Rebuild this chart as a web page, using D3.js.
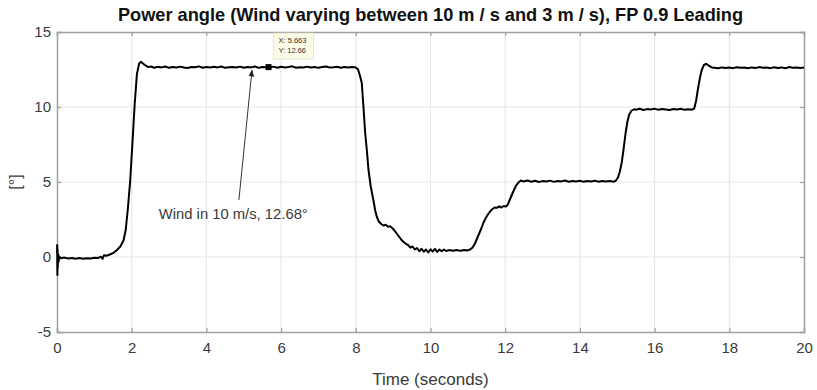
<!DOCTYPE html>
<html>
<head>
<meta charset="utf-8">
<script src="https://cdn.jsdelivr.net/npm/d3@7"></script>
<style>
  html, body { margin: 0; padding: 0; background: #fff; }
  svg { display: block; font-family: "Liberation Sans", Arial, sans-serif; }
</style>
</head>
<body>
<svg id="chart" width="817" height="390"></svg>
<script>
// ---- data ----
const titleText = "Power angle (Wind varying between 10 m / s and 3 m / s), FP 0.9 Leading";
const xLabelText = "Time (seconds)";
const yLabelText = "[°]";
const xTicks = [0, 2, 4, 6, 8, 10, 12, 14, 16, 18, 20];
const yTicks = [-5, 0, 5, 10, 15];

// [time (s), power angle (deg)]
const powerAngle = [
  [0.000, 0.30],[0.005, 0.80],[0.010,-1.20],[0.015,0.50],[0.020,-0.70],[0.030,0.20],[0.045,-0.30],[0.060,0.05],
  [0.10,-0.08],[0.20,-0.04],[0.30,-0.10],[0.40,-0.06],[0.50,-0.11],[0.60,-0.07],[0.70,-0.12],[0.80,-0.08],
  [0.90,-0.10],[1.00,-0.05],[1.10,-0.06],[1.18,0.02],[1.22,-0.12],[1.26,0.12],[1.32,0.08],[1.40,0.15],
  [1.50,0.26],[1.60,0.45],[1.70,0.72],[1.78,1.10],[1.84,1.80],[1.90,3.30],[1.96,5.10],[2.02,7.60],
  [2.08,10.2],[2.14,12.2],[2.20,12.9],[2.25,13.02],[2.30,12.9],[2.38,12.75],[2.45,12.66],[2.52,12.70],
  [2.6,12.62],[2.7,12.68],[2.8,12.64],[2.9,12.70],[3.0,12.61],[3.1,12.66],[3.2,12.63],[3.3,12.69],
  [3.4,12.64],[3.5,12.60],[3.6,12.67],[3.7,12.65],[3.8,12.71],[3.9,12.62],[4.0,12.66],[4.1,12.63],
  [4.2,12.68],[4.3,12.64],[4.4,12.70],[4.5,12.61],[4.6,12.65],[4.7,12.67],[4.8,12.63],[4.9,12.69],
  [5.0,12.62],[5.1,12.66],[5.2,12.64],[5.3,12.70],[5.4,12.61],[5.5,12.67],[5.6,12.65],[5.7,12.63],
  [5.8,12.69],[5.9,12.62],[6.0,12.68],[6.1,12.64],[6.2,12.66],[6.3,12.71],[6.4,12.62],[6.5,12.65],
  [6.6,12.63],[6.7,12.69],[6.8,12.64],[6.9,12.67],[7.0,12.61],[7.1,12.66],[7.2,12.70],[7.3,12.63],
  [7.4,12.65],[7.5,12.68],[7.6,12.62],[7.7,12.66],[7.8,12.64],[7.9,12.67],[8.0,12.63],
  [8.06,12.5],[8.11,12.1],[8.16,11.6],[8.20,10.2],[8.25,8.3],[8.30,7.0],[8.34,5.8],[8.40,4.7],
  [8.47,3.8],[8.52,3.1],[8.56,2.7],[8.62,2.35],[8.68,2.2],[8.74,2.1],[8.80,2.15],[8.86,2.02],
  [8.92,2.05],[8.98,1.92],[9.04,1.75],[9.10,1.55],[9.16,1.35],[9.22,1.15],[9.28,1.0],[9.34,0.88],
  [9.40,0.8],[9.46,0.62],[9.52,0.7],[9.58,0.5],[9.64,0.6],[9.70,0.38],[9.76,0.55],[9.82,0.35],
  [9.88,0.5],[9.94,0.3],[10.0,0.52],[10.06,0.36],[10.12,0.55],[10.18,0.34],[10.24,0.5],[10.30,0.38],
  [10.36,0.5],[10.42,0.4],[10.5,0.46],[10.6,0.42],[10.7,0.47],[10.8,0.41],[10.9,0.46],[11.0,0.44],
  [11.06,0.5],[11.12,0.62],[11.18,0.85],[11.24,1.2],[11.30,1.55],[11.36,1.9],[11.42,2.3],[11.48,2.6],
  [11.54,2.85],[11.60,3.05],[11.66,3.2],[11.72,3.3],[11.78,3.28],[11.84,3.38],[11.90,3.3],[11.96,3.4],
  [12.02,3.36],[12.07,3.5],[12.12,3.8],[12.18,4.15],[12.24,4.5],[12.30,4.8],[12.36,4.98],[12.42,5.1],
  [12.48,5.04],[12.6,5.10],[12.7,5.02],[12.8,5.08],[12.9,5.00],[13.0,5.06],[13.1,5.03],[13.2,5.09],
  [13.3,5.01],[13.4,5.07],[13.5,5.04],[13.6,5.10],[13.7,5.02],[13.8,5.06],[13.9,5.03],[14.0,5.08],
  [14.1,5.01],[14.2,5.06],[14.3,5.04],[14.4,5.09],[14.5,5.02],[14.6,5.07],[14.7,5.03],[14.8,5.06],
  [14.9,5.02],[14.96,5.08],[15.02,5.3],[15.07,5.7],[15.12,6.3],[15.17,7.2],[15.22,8.2],[15.27,9.0],
  [15.32,9.5],[15.38,9.75],[15.45,9.85],[15.5,9.82],[15.6,9.88],[15.7,9.80],[15.8,9.86],[15.9,9.83],
  [16.0,9.89],[16.1,9.81],[16.2,9.86],[16.3,9.84],[16.4,9.80],[16.5,9.87],[16.6,9.83],[16.7,9.88],
  [16.8,9.81],[16.9,9.85],[17.0,9.82],[17.06,9.9],[17.11,10.4],[17.16,11.2],[17.21,11.9],[17.26,12.45],
  [17.32,12.8],[17.38,12.88],[17.45,12.76],[17.53,12.64],[17.6,12.62],[17.7,12.58],[17.8,12.64],[17.9,12.60],
  [18.0,12.63],[18.1,12.59],[18.2,12.65],[18.3,12.61],[18.4,12.63],[18.5,12.58],[18.6,12.64],[18.7,12.60],
  [18.8,12.66],[18.9,12.61],[19.0,12.63],[19.1,12.59],[19.2,12.65],[19.3,12.60],[19.4,12.64],[19.5,12.58],
  [19.6,12.66],[19.7,12.61],[19.8,12.63],[19.9,12.60],[20.0,12.64]
];

// data tip (MATLAB datacursor)
const dataTip = { x: 5.663, y: 12.66, lines: ["X: 5.663", "Y: 12.66"] };
// text arrow annotation: text anchor and arrow head, in data units
const annotation = { text: "Wind in 10 m/s, 12.68°", textX: 4.72, textY: 2.55, tailX: 4.87, tailY: 3.8, headX: 5.22, headY: 12.45 };

// ---- layout ----
const W = 817, H = 390;
const margin = { left: 57, right: 13, top: 32, bottom: 58 };
const iw = W - margin.left - margin.right;
const ih = H - margin.top - margin.bottom;

const svg = d3.select("#chart");
const x = d3.scaleLinear().domain([0, 20]).range([margin.left, margin.left + iw]);
const y = d3.scaleLinear().domain([-5, 15]).range([margin.top + ih, margin.top]);

const textCol = "#3a3a3a";
const axisCol = "#a0a0a0";

// grid
const grid = svg.append("g");
grid.selectAll("line.gx").data(xTicks.slice(1, -1)).join("line")
  .attr("x1", d => x(d)).attr("x2", d => x(d))
  .attr("y1", margin.top).attr("y2", margin.top + ih)
  .attr("stroke", "#e8e8e8").attr("stroke-width", 1.2);
grid.selectAll("line.gy").data(yTicks.slice(1, -1)).join("line")
  .attr("x1", margin.left).attr("x2", margin.left + iw)
  .attr("y1", d => y(d)).attr("y2", d => y(d))
  .attr("stroke", "#e8e8e8").attr("stroke-width", 1.2);

// axes
const fontSize = 15;
const fmt = d => String(d);
const xAxis = svg.append("g").attr("transform", `translate(0,${margin.top + ih})`)
  .call(d3.axisBottom(x).tickValues(xTicks).tickSize(-4).tickPadding(10).tickFormat(fmt));
const yAxis = svg.append("g").attr("transform", `translate(${margin.left},0)`)
  .call(d3.axisLeft(y).tickValues(yTicks).tickSize(-4).tickPadding(6).tickFormat(fmt));
const xAxisTop = svg.append("g").attr("transform", `translate(0,${margin.top})`)
  .call(d3.axisTop(x).tickValues(xTicks).tickSize(-4).tickFormat(""));
const yAxisRight = svg.append("g").attr("transform", `translate(${margin.left + iw},0)`)
  .call(d3.axisRight(y).tickValues(yTicks).tickSize(-4).tickFormat(""));
[xAxis, yAxis, xAxisTop, yAxisRight].forEach(g => {
  g.select(".domain").attr("stroke", axisCol).attr("stroke-width", 1.5);
  g.selectAll(".tick line").attr("stroke", axisCol).attr("stroke-width", 1.2);
  g.selectAll(".tick text").attr("fill", textCol).attr("font-size", fontSize)
    .attr("font-family", "Liberation Sans, Arial, sans-serif");
});

// line
const line = d3.line().x(d => x(d[0])).y(d => y(d[1]));
svg.append("path").datum(powerAngle)
  .attr("d", line).attr("fill", "none")
  .attr("stroke", "#000").attr("stroke-width", 2).attr("stroke-linejoin", "round");

// title & labels
svg.append("text").attr("x", margin.left + iw / 2).attr("y", 21)
  .attr("text-anchor", "middle").attr("font-weight", "bold").attr("font-size", 18.2)
  .attr("fill", "#111").text(titleText);
svg.append("text").attr("x", margin.left + iw / 2).attr("y", 385)
  .attr("text-anchor", "middle").attr("font-size", 17).attr("fill", textCol).text(xLabelText);
svg.append("text").attr("transform", `translate(21,${margin.top + ih / 2}) rotate(-90)`)
  .attr("text-anchor", "middle").attr("font-size", 16).attr("fill", textCol).text(yLabelText);

// annotation arrow
svg.append("defs").append("marker").attr("id", "ah")
  .attr("viewBox", "0 0 10 10").attr("refX", 9).attr("refY", 5)
  .attr("markerWidth", 7).attr("markerHeight", 7).attr("orient", "auto")
  .append("path").attr("d", "M0,1 L10,5 L0,9 z").attr("fill", "#222");
svg.append("line")
  .attr("x1", x(annotation.tailX)).attr("y1", y(annotation.tailY))
  .attr("x2", x(annotation.headX)).attr("y2", y(annotation.headY))
  .attr("stroke", "#333").attr("stroke-width", 1).attr("marker-end", "url(#ah)");
svg.append("text").attr("x", x(annotation.textX)).attr("y", y(annotation.textY))
  .attr("text-anchor", "middle").attr("font-size", 14.8).attr("fill", textCol).text(annotation.text);

// data tip
const tx = x(dataTip.x), ty = y(dataTip.y);
svg.append("rect").attr("x", tx - 3).attr("y", ty - 3).attr("width", 6).attr("height", 6).attr("fill", "#000");
const tip = svg.append("g").attr("transform", `translate(${tx + 5},${ty - 34})`);
tip.append("rect").attr("width", 40).attr("height", 26)
  .attr("fill", "#fbfbe6").attr("stroke", "#e2e2cc").attr("stroke-width", 0.8);
tip.selectAll("text").data(dataTip.lines).join("text")
  .attr("x", 5).attr("y", (d, i) => 10 + i * 10)
  .attr("font-size", 7.5).attr("fill", "#333").text(d => d);
</script>
</body>
</html>
